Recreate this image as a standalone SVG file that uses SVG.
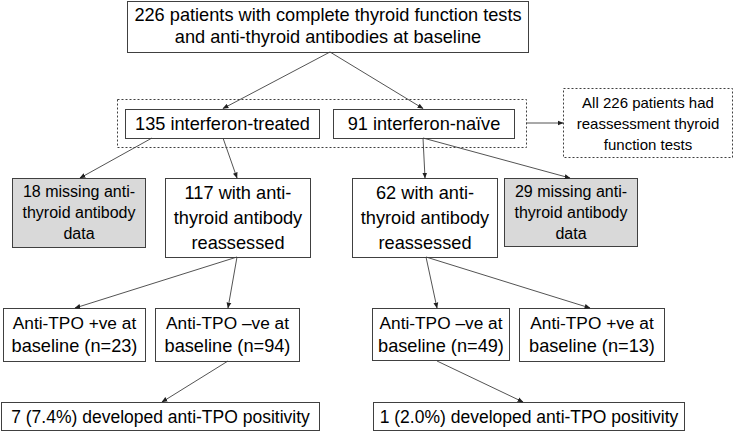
<svg xmlns="http://www.w3.org/2000/svg" width="735" height="431" viewBox="0 0 735 431">
<style>
text{font-family:"Liberation Sans",Arial,sans-serif;fill:#000;text-anchor:middle}
.b{fill:#fff;stroke:#404040;stroke-width:1}
.g{fill:#d9d9d9;stroke:#404040;stroke-width:1}
.d{fill:#fff;stroke:#404040;stroke-width:1;stroke-dasharray:2 2}
.f18{font-size:18.2px}
.f17{font-size:17.3px}
.fb{font-size:17.5px}
.f16{font-size:16px}
.f15{font-size:15px}
.c line{stroke:#404040;stroke-width:0.9;marker-end:url(#ah)}
</style>
<defs>
<marker id="ah" viewBox="0 0 10 10" refX="9" refY="5" markerWidth="6" markerHeight="6" markerUnits="userSpaceOnUse" orient="auto">
<path d="M0,1 L10,5 L0,9 z" fill="#202020"/>
</marker>
</defs>
<g id="group-box"><rect class="d" x="117.5" y="99.5" width="409" height="48"/></g>
<g id="n-top"><rect class="b" x="127.5" y="1.5" width="401" height="51"/>
<text class="f18" x="328" y="21">226 patients with complete thyroid function tests</text>
<text class="f18" x="328" y="43">and anti-thyroid antibodies at baseline</text></g>
<g id="n-treated"><rect class="b" x="125.5" y="109.5" width="194" height="29"/>
<text class="f18" x="222.5" y="130">135 interferon-treated</text></g>
<g id="n-naive"><rect class="b" x="333.5" y="109.5" width="181" height="29"/>
<text class="f18" x="424" y="130">91 interferon-naïve</text></g>
<g id="n-reassess"><rect class="d" x="563.5" y="88.5" width="169" height="69"/>
<text class="f15" x="648" y="108">All 226 patients had</text>
<text class="f15" x="648" y="129">reassessment thyroid</text>
<text class="f15" x="648" y="150">function tests</text></g>
<g id="n-miss18"><rect class="g" x="12.5" y="178.5" width="133" height="69"/>
<text class="f16" x="79" y="197">18 missing anti-</text>
<text class="f16" x="79" y="218">thyroid antibody</text>
<text class="f16" x="79" y="239">data</text></g>
<g id="n-117"><rect class="b" x="165.5" y="178.5" width="145" height="79"/>
<text class="f18" x="238" y="199">117 with anti-</text>
<text class="f18" x="238" y="224">thyroid antibody</text>
<text class="f18" x="238" y="249">reassessed</text></g>
<g id="n-62"><rect class="b" x="352.5" y="178.5" width="145" height="79"/>
<text class="f18" x="425" y="199">62 with anti-</text>
<text class="f18" x="425" y="224">thyroid antibody</text>
<text class="f18" x="425" y="249">reassessed</text></g>
<g id="n-miss29"><rect class="g" x="504.5" y="178.5" width="133" height="68"/>
<text class="f16" x="571" y="197">29 missing anti-</text>
<text class="f16" x="571" y="218">thyroid antibody</text>
<text class="f16" x="571" y="239">data</text></g>
<g id="n-pos23"><rect class="b" x="3.5" y="308.5" width="142" height="53"/>
<text class="f17" x="74.5" y="329">Anti-TPO +ve at</text>
<text class="f18" x="74.5" y="352">baseline (n=23)</text></g>
<g id="n-neg94"><rect class="b" x="155.5" y="308.5" width="144" height="53"/>
<text class="f17" x="227.5" y="329">Anti-TPO –ve at</text>
<text class="f18" x="227.5" y="352">baseline (n=94)</text></g>
<g id="n-neg49"><rect class="b" x="372.5" y="308.5" width="137" height="52"/>
<text class="f17" x="441" y="329">Anti-TPO –ve at</text>
<text class="f18" x="441" y="352">baseline (n=49)</text></g>
<g id="n-pos13"><rect class="b" x="519.5" y="308.5" width="145" height="53"/>
<text class="f17" x="592" y="329">Anti-TPO +ve at</text>
<text class="f18" x="592" y="352">baseline (n=13)</text></g>
<g id="n-dev7"><rect class="b" x="1.5" y="402.5" width="318" height="28"/>
<text class="fb" x="160.5" y="423">7 (7.4%) developed anti-TPO positivity</text></g>
<g id="n-dev1"><rect class="b" x="373.5" y="402.5" width="311" height="28"/>
<text class="fb" x="529" y="423">1 (2.0%) developed anti-TPO positivity</text></g>
<g id="connectors" class="c">
<line x1="330" y1="52" x2="223" y2="108.5"/>
<line x1="330" y1="52" x2="423" y2="108.5"/>
<line x1="526" y1="123" x2="563" y2="123"/>
<line x1="152" y1="138" x2="80" y2="178"/>
<line x1="223" y1="138" x2="237" y2="178"/>
<line x1="423" y1="138" x2="425" y2="178"/>
<line x1="423" y1="138" x2="570" y2="178"/>
<line x1="237" y1="257" x2="75" y2="308"/>
<line x1="237" y1="257" x2="228" y2="308"/>
<line x1="426" y1="257" x2="437" y2="308"/>
<line x1="426" y1="257" x2="590" y2="308"/>
<line x1="228" y1="361" x2="162" y2="402"/>
<line x1="437" y1="361" x2="523" y2="402"/>
</g>
</svg>
